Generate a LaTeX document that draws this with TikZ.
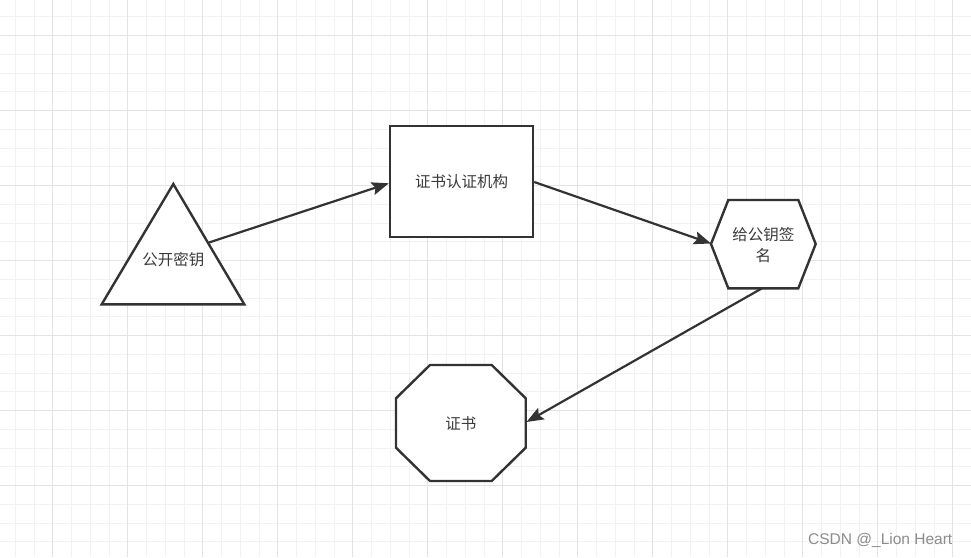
\documentclass[tikz,border=0pt]{standalone}
\usepackage{fontspec}
\newfontfamily\cjk{Noto Sans CJK SC}
\newfontfamily\wmfont{Liberation Sans}
\usetikzlibrary{arrows.meta}
\definecolor{ink}{HTML}{333333}
\definecolor{textink}{HTML}{3A3A3A}
\definecolor{gridminor}{HTML}{F2F2F2}
\definecolor{gridmajor}{HTML}{E3E3E3}
\definecolor{wm}{HTML}{8C8C8C}
\tikzset{
  shapeline/.style={draw=ink, line width=2.4pt, line join=miter, fill=white},
  label/.style={text=textink, font=\cjk\fontsize{15.5}{21}\selectfont, align=center, inner sep=0pt},
  conn/.style={draw=ink, line width=2.2pt, -{Stealth[length=17pt,width=13pt,inset=3pt]}},
}
\begin{document}
\begin{tikzpicture}[x=1pt,y=-1pt]
\useasboundingbox (0,0) rectangle (971,557);
\fill[white] (0,0) rectangle (971,557);
% grid
\foreach \i in {0,...,51} {
  \pgfmathsetmacro{\gx}{round(14.8+18.75*\i)+0.5}
  \draw[gridminor, line width=1pt] (\gx,0) -- (\gx,557);
}
\foreach \j in {0,...,29} {
  \pgfmathsetmacro{\gy}{round(16.25+18.75*\j)+0.5}
  \draw[gridminor, line width=1pt] (0,\gy) -- (971,\gy);
}
\foreach \i in {0,...,12} {
  \pgfmathsetmacro{\gx}{round(52.3+75*\i)+0.5}
  \draw[gridmajor, line width=1pt] (\gx,0) -- (\gx,557);
}
\foreach \j in {0,...,7} {
  \pgfmathsetmacro{\gy}{round(35+75*\j)+0.5}
  \draw[gridmajor, line width=1pt] (0,\gy) -- (971,\gy);
}
% triangle
\draw[shapeline] (173.3,184) -- (244.3,304.3) -- (101.7,304.3) -- cycle;
\node[label] (tri) at (173.3,260) {公开密钥};
\coordinate (triout) at (209,242.5);
% rectangle
\node[shapeline, label, minimum width=143pt, minimum height=111pt] (ca) at (461.5,181.5) {证书认证机构};
% hexagon
\draw[shapeline] (711,244) -- (728.3,200) -- (798.3,200) -- (815.7,244) -- (798.3,288.3) -- (728.3,288.3) -- cycle;
\node[label] (sign) at (763.3,245) {给公钥签\\名};
\coordinate (hexin) at (711,243.5);
\coordinate (hexout) at (762,288.3);
% octagon
\draw[shapeline] (430,365) -- (491.7,365) -- (525.7,398.3) -- (525.7,447.7) -- (491.7,481) -- (430,481) -- (396,447.7) -- (396,398.3) -- cycle;
\node[label] (cert) at (460.8,423.5) {证书};
\coordinate (octin) at (526.5,422);
% connectors
\draw[conn] (triout) -- (ca.west |- 0,183.3);
\draw[conn] (ca.east |- 0,182) -- (hexin);
\draw[conn] (hexout) -- (octin);
% watermark
\node[text=wm, font=\wmfont\fontsize{15.5}{18}\selectfont, anchor=west, inner sep=0pt] (wmark) at (808,540) {CSDN @\_Lion Heart};
\end{tikzpicture}
\end{document}
